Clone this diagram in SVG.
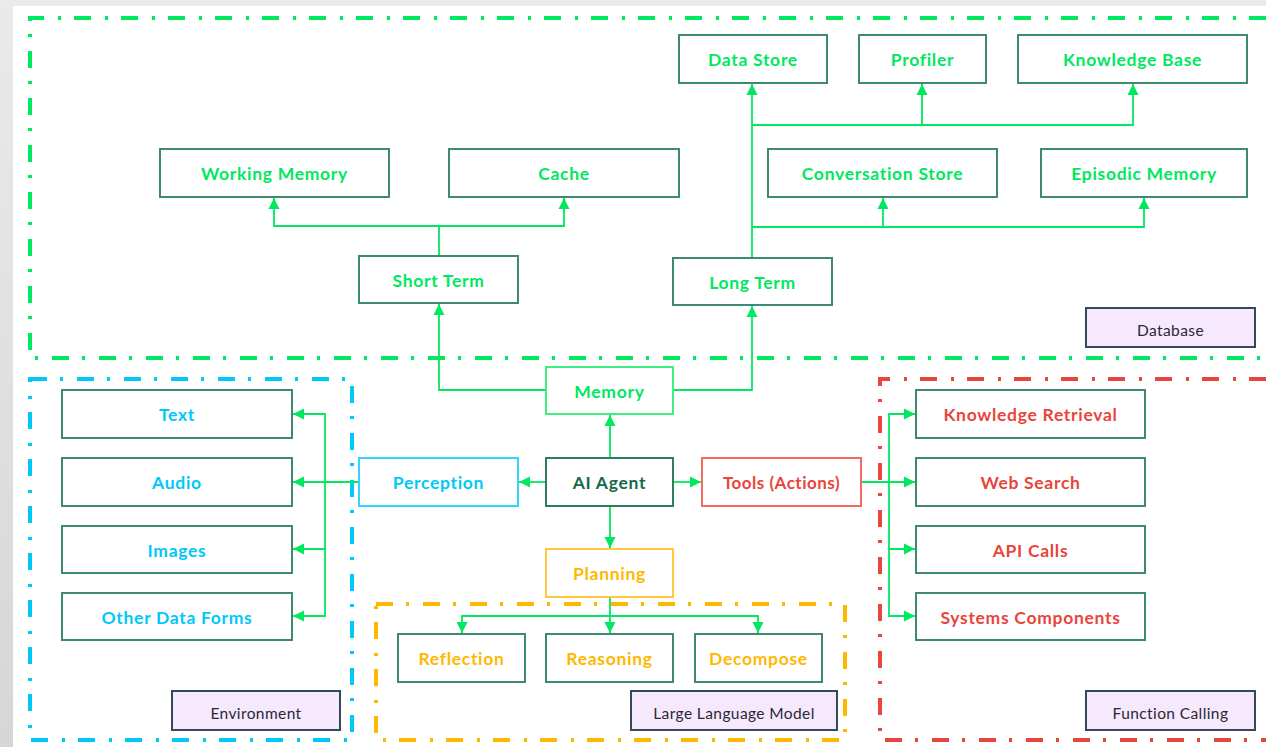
<svg xmlns="http://www.w3.org/2000/svg" width="1266" height="747" viewBox="0 0 1266 747">
<defs>
<linearGradient id="bg" x1="0" y1="0" x2="0" y2="1">
<stop offset="0" stop-color="#e9eaec"/>
<stop offset="1" stop-color="#d6d6d6"/>
</linearGradient>
<marker id="ah" markerWidth="12" markerHeight="12" refX="11" refY="6" orient="auto" markerUnits="userSpaceOnUse">
<path d="M0,0.5 L11,6 L0,11.5 Z" fill="#00e85f"/>
</marker>
<style>
.grp{fill:none;stroke-width:4;stroke-dasharray:17 13 3 14}
.node rect{fill:#fff;stroke:#3d8a6e;stroke-width:2}
.node text{font-family:"Lato","Noto Sans",sans-serif;font-weight:700;font-size:17.5px;letter-spacing:0.7px;text-anchor:middle;dominant-baseline:central}
.g text{fill:#00e85f}
.b text{fill:#00c8f8}
.r text{fill:#e8453c}
.y text{fill:#ffb800}
.lbl rect{fill:#f6e9fd;stroke:#34495a;stroke-width:2}
.lbl text{font-family:"Lato","Noto Sans",sans-serif;font-size:15.5px;letter-spacing:0.4px;fill:#2b2733;text-anchor:middle;dominant-baseline:central}
.conn path{fill:none;stroke:#00e85f;stroke-width:1.8}
</style>
</defs>
<rect x="0" y="0" width="1266" height="747" fill="url(#bg)"/>
<rect x="13" y="6" width="1253" height="741" fill="#fff"/>

<g id="groups">
<path id="grp-database" class="grp" stroke="#00e85f" d="M1266,18 L30,18 L30,358 L1266,358"/>
<rect id="grp-environment" class="grp" stroke="#00c8f8" x="30" y="379" width="322" height="361"/>
<rect id="grp-llm" class="grp" stroke="#ffb800" x="376" y="604" width="469" height="136"/>
<path id="grp-function" class="grp" stroke="#e8453c" d="M1266,379 L880,379 L880,740 L1266,740"/>
</g>

<g class="conn" id="connectors">
<path d="M546,390 H439 V304" marker-end="url(#ah)"/>
<path d="M673,390 H752 V306" marker-end="url(#ah)"/>
<path d="M439,256 V226 H274 V198" marker-end="url(#ah)"/>
<path d="M439,226 H564 V198" marker-end="url(#ah)"/>
<path d="M752,258 V84" marker-end="url(#ah)"/>
<path d="M752,125 H922 V84" marker-end="url(#ah)"/>
<path d="M922,125 H1133 V84" marker-end="url(#ah)"/>
<path d="M752,227 H883 V198" marker-end="url(#ah)"/>
<path d="M883,227 H1144 V198" marker-end="url(#ah)"/>
<path d="M610,458 V415" marker-end="url(#ah)"/>
<path d="M546,482 H519" marker-end="url(#ah)"/>
<path d="M673,482 H701" marker-end="url(#ah)"/>
<path d="M610,506 V548" marker-end="url(#ah)"/>
<path d="M359,482 H293" marker-end="url(#ah)"/>
<path d="M325,482 V414 H293" marker-end="url(#ah)"/>
<path d="M325,482 V549 H293" marker-end="url(#ah)"/>
<path d="M325,549 V616 H293" marker-end="url(#ah)"/>
<path d="M861,482 H915" marker-end="url(#ah)"/>
<path d="M889,482 V414 H915" marker-end="url(#ah)"/>
<path d="M889,482 V549 H915" marker-end="url(#ah)"/>
<path d="M889,549 V616 H915" marker-end="url(#ah)"/>
<path d="M610,597 V633" marker-end="url(#ah)"/>
<path d="M610,616 H462 V633" marker-end="url(#ah)"/>
<path d="M610,616 H758 V633" marker-end="url(#ah)"/>
</g>

<g id="n-working-memory" class="node g"><rect x="160" y="149" width="229" height="48"/><text x="274.5" y="173">Working Memory</text></g>
<g id="n-cache" class="node g"><rect x="449" y="149" width="230" height="48"/><text x="564" y="173">Cache</text></g>
<g id="n-short-term" class="node g"><rect x="359" y="256" width="159" height="47"/><text x="438.5" y="280">Short Term</text></g>
<g id="n-long-term" class="node g"><rect x="673" y="258" width="159" height="47"/><text x="752.5" y="282">Long Term</text></g>
<g id="n-data-store" class="node g"><rect x="679" y="35" width="148" height="48"/><text x="753" y="59">Data Store</text></g>
<g id="n-profiler" class="node g"><rect x="859" y="35" width="127" height="48"/><text x="922.5" y="59">Profiler</text></g>
<g id="n-knowledge-base" class="node g"><rect x="1018" y="35" width="229" height="48"/><text x="1132.5" y="59">Knowledge Base</text></g>
<g id="n-conversation-store" class="node g"><rect x="768" y="149" width="229" height="48"/><text x="882.5" y="173">Conversation Store</text></g>
<g id="n-episodic-memory" class="node g"><rect x="1041" y="149" width="206" height="48"/><text x="1144" y="173">Episodic Memory</text></g>
<g id="l-database" class="lbl"><rect x="1086" y="308" width="169" height="39"/><text x="1170.5" y="330">Database</text></g>

<g id="n-memory" class="node g"><rect x="546" y="367" width="127" height="47" style="stroke:#3fef80"/><text x="609.5" y="391">Memory</text></g>
<g id="n-perception" class="node b"><rect x="359" y="458" width="159" height="48" style="stroke:#33d4ff"/><text x="438.5" y="482">Perception</text></g>
<g id="n-ai-agent" class="node"><rect x="546" y="458" width="127" height="48" style="stroke:#2e7d5b"/><text x="609.5" y="482" style="fill:#17684a">AI Agent</text></g>
<g id="n-tools" class="node r"><rect x="702" y="458" width="159" height="48" style="stroke:#f26b62"/><text x="781.5" y="482" style="font-size:17px;letter-spacing:0.5px">Tools (Actions)</text></g>
<g id="n-planning" class="node y"><rect x="546" y="549" width="127" height="48" style="stroke:#ffc83d"/><text x="609.5" y="573">Planning</text></g>

<g id="n-text" class="node b"><rect x="62" y="390" width="230" height="48"/><text x="177" y="414">Text</text></g>
<g id="n-audio" class="node b"><rect x="62" y="458" width="230" height="48"/><text x="177" y="482">Audio</text></g>
<g id="n-images" class="node b"><rect x="62" y="526" width="230" height="47"/><text x="177" y="550">Images</text></g>
<g id="n-other" class="node b"><rect x="62" y="593" width="230" height="47"/><text x="177" y="617">Other Data Forms</text></g>
<g id="l-environment" class="lbl"><rect x="172" y="691" width="168" height="39"/><text x="256" y="713">Environment</text></g>

<g id="n-reflection" class="node y"><rect x="398" y="634" width="127" height="48"/><text x="461.5" y="658">Reflection</text></g>
<g id="n-reasoning" class="node y"><rect x="546" y="634" width="127" height="48"/><text x="609.5" y="658">Reasoning</text></g>
<g id="n-decompose" class="node y"><rect x="695" y="634" width="127" height="48"/><text x="758.5" y="658">Decompose</text></g>
<g id="l-llm" class="lbl"><rect x="631" y="691" width="206" height="39"/><text x="734" y="713">Large Language Model</text></g>

<g id="n-knowledge-retrieval" class="node r"><rect x="916" y="390" width="229" height="48"/><text x="1030.5" y="414">Knowledge Retrieval</text></g>
<g id="n-web-search" class="node r"><rect x="916" y="458" width="229" height="48"/><text x="1030.5" y="482">Web Search</text></g>
<g id="n-api-calls" class="node r"><rect x="916" y="526" width="229" height="47"/><text x="1030.5" y="550">API Calls</text></g>
<g id="n-systems" class="node r"><rect x="916" y="593" width="229" height="47"/><text x="1030.5" y="617">Systems Components</text></g>
<g id="l-function" class="lbl"><rect x="1086" y="691" width="169" height="39"/><text x="1170.5" y="713">Function Calling</text></g>
</svg>
